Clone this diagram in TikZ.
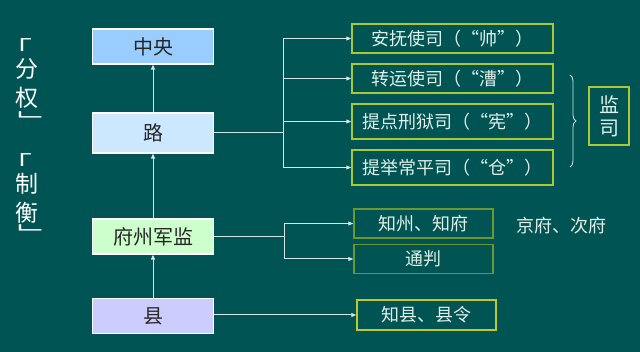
\documentclass[tikz,border=0pt]{standalone}
\usepackage{fontspec}
\setmainfont{Noto Sans CJK SC}
\usetikzlibrary{arrows.meta,decorations.pathreplacing}

\definecolor{board}{RGB}{0,84,84}
\definecolor{linec}{RGB}{214,230,228}
\definecolor{lighttext}{RGB}{226,240,232}
\definecolor{zyblue}{RGB}{153,204,255}
\definecolor{lublue}{RGB}{204,232,255}
\definecolor{fzgreen}{RGB}{204,255,204}
\definecolor{xianpurple}{RGB}{204,204,255}
\definecolor{siline}{RGB}{170,200,50}
\definecolor{fzline}{RGB}{110,150,50}
\definecolor{zxline}{RGB}{190,200,40}

\begin{document}
\begin{tikzpicture}[x=1pt,y=-1pt,
    sidetxt/.style={text=white, font=\fontsize{23}{23}\selectfont, inner sep=0pt},
    sidebr/.style={text=white, font=\fontsize{20}{20}\selectfont, inner sep=0pt,
        xscale=1.6, transform shape},
    lvbox/.style={draw=white, line width=1.2pt, minimum width=121pt, minimum height=35pt,
        font=\fontsize{20}{24}\selectfont, text=black!85},
    subox/.style={draw=siline, line width=1.5pt, minimum width=201pt,
        font=\fontsize{18}{22}\selectfont, text=lighttext},
    link/.style={draw=linec, line width=1pt},
    tip/.style={link, -{Triangle[length=5pt,width=4pt]}}]

    % Background (fixes the page size)
    \useasboundingbox (0,0) rectangle (640,352);
    \fill[board] (0,0) rectangle (640,352);

    % Side text
    \foreach \ch/\y/\nm in {分/69/fq2, 权/98/fq3, 制/184/zh2, 衡/213/zh3}
        \node[sidetxt] (\nm) at (27,\y) {\ch};
    \foreach \ch/\x/\y/\nm in {「/17/47/fq1, ﹂/34/120/fq4, 「/17/162/zh1, ﹂/34/233/zh4}
        \node[sidebr] (\nm) at (\x,\y) {\ch};

    % Levels
    \node[lvbox, fill=zyblue] (zhongyang) at (153,46.5) {中央};
    \node[lvbox, fill=lublue, minimum height=40pt] (lu) at (153,133) {路};
    \node[lvbox, fill=fzgreen] (fuzhou) at (153,236.5) {府州军监};
    \node[lvbox, fill=xianpurple] (xian) at (153,316) {县};

    \draw[tip] (lu.north) -- (zhongyang.south);
    \draw[tip] (fuzhou.north) -- (lu.south);
    \draw[tip] (xian.north) -- (fuzhou.south);

    % Four offices of the lu
    \node[subox, minimum height=29pt] (anfu) at (452.5,38.5) {安抚使司（“帅”）};
    \node[subox, minimum height=29pt] (zhuanyun) at (452.5,78.5) {转运使司（“漕”）};
    \node[subox, minimum height=35pt] (tidian) at (452.5,121.5) {提点刑狱司（“宪”）};
    \node[subox, minimum height=35pt] (tiju) at (452.5,167.5) {提举常平司（“仓”）};

    \coordinate (lubus) at ([xshift=69pt]lu.east);
    \draw[link] (lu.east) -- (lubus);
    \draw[link] (lubus |- anfu) -- (lubus |- tiju);
    \foreach \nm in {anfu,zhuanyun,tidian,tiju}
        \draw[tip] (lubus |- \nm) -- (\nm.west);

    % Jiansi with brace
    \draw[link, line width=0.8pt, decorate, decoration={brace,amplitude=6pt}] (570,75) -- (570,167);
    \node[subox, minimum width=40pt, minimum height=58pt, inner sep=0pt, align=center,
          font=\fontsize{20}{23}\selectfont] (jiansi) at (609,116) {监\\司};

    % Prefecture officials
    \node[subox, draw=fzline, minimum width=139pt, minimum height=29pt] (zhizhou) at (423.5,223.5) {知州、知府};
    \node[subox, draw=fzline, minimum width=139pt, minimum height=29pt] (tongpan) at (423.5,259) {通判};
    \node[text=lighttext, font=\fontsize{18}{22}\selectfont] (jingfu) at (561,226) {京府、次府};

    \coordinate (fzbus) at ([xshift=70pt]fuzhou.east);
    \draw[link] (fuzhou.east) -- (fzbus);
    \draw[link] (fzbus |- zhizhou) -- (fzbus |- tongpan);
    \draw[tip] (fzbus |- zhizhou) -- (zhizhou.west);
    \draw[tip] (fzbus |- tongpan) -- (tongpan.west);

    % County officials
    \node[subox, draw=zxline, minimum width=139pt, minimum height=30pt] (zhixian) at (426.5,315) {知县、县令};
    \draw[tip] (xian.east |- zhixian) -- (zhixian.west);

\end{tikzpicture}
\end{document}
